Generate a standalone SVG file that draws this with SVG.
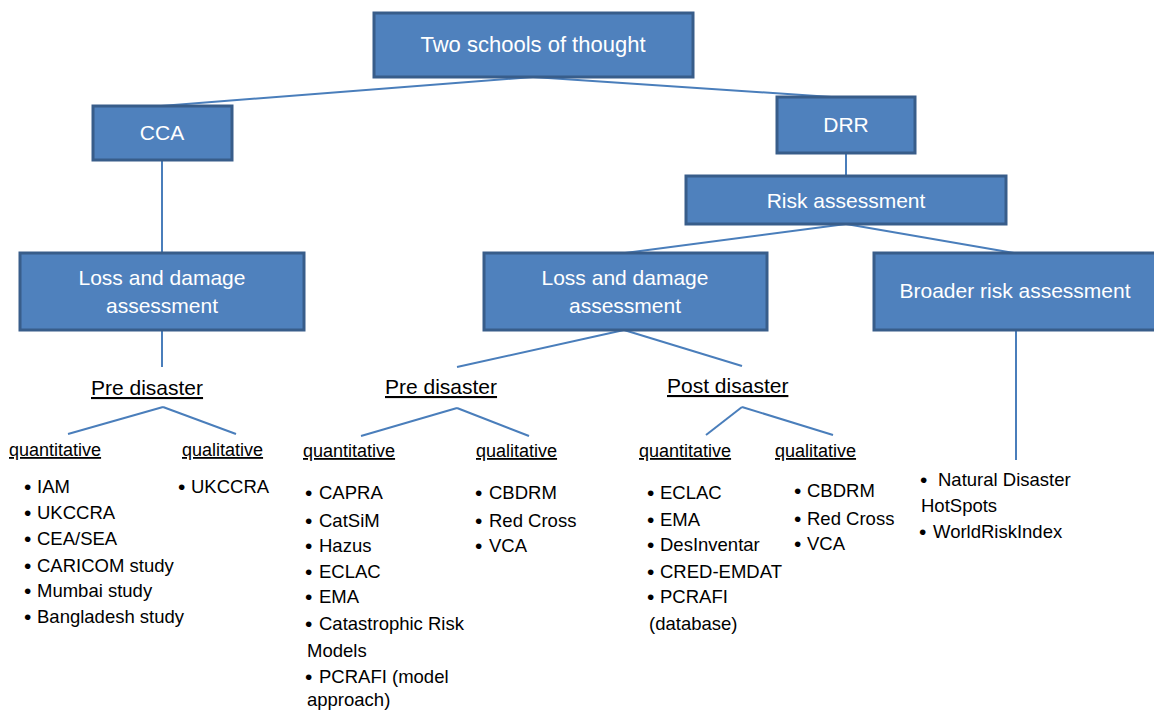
<svg xmlns="http://www.w3.org/2000/svg" width="1154" height="711" viewBox="0 0 1154 711">
<style>
.box{fill:#4f81bd;stroke:#385d8a;stroke-width:3}
.bt{font-family:"Liberation Sans",Arial,sans-serif;font-size:21px;fill:#fff;text-anchor:middle}
.conn line{stroke:#4a7ebb;stroke-width:2}
.h{font-family:"Liberation Sans",Arial,sans-serif;font-size:21px;fill:#000;text-decoration:underline}
.lab{font-family:"Liberation Sans",Arial,sans-serif;font-size:18px;fill:#000;text-decoration:underline}
.li{font-family:"Liberation Sans",Arial,sans-serif;font-size:18.5px;fill:#000}
.b{font-size:21px}
</style>
<rect width="1154" height="711" fill="#fff"/>
<g class="conn" id="connectors">
<line x1="533" y1="77" x2="161" y2="106"/>
<line x1="533" y1="77" x2="846" y2="98"/>
<line x1="162" y1="160" x2="162" y2="253"/>
<line x1="846" y1="153" x2="846" y2="176"/>
<line x1="846" y1="224" x2="625" y2="253"/>
<line x1="846" y1="224" x2="1014" y2="253"/>
<line x1="162" y1="330" x2="162" y2="367"/>
<line x1="624" y1="330" x2="457" y2="367"/>
<line x1="624" y1="330" x2="742" y2="366"/>
<line x1="163" y1="407" x2="68" y2="434"/>
<line x1="163" y1="407" x2="236" y2="434"/>
<line x1="457" y1="408" x2="361" y2="436"/>
<line x1="457" y1="408" x2="529" y2="436"/>
<line x1="742" y1="407" x2="706" y2="435"/>
<line x1="742" y1="407" x2="833" y2="435"/>
<line x1="1016" y1="330" x2="1016" y2="460"/>
</g>
<g id="n-top"><rect class="box" x="374" y="13" width="319" height="64"/><text class="bt" x="533" y="52" style="font-size:22px">Two schools of thought</text></g>
<g id="n-cca"><rect class="box" x="93" y="106" width="139" height="54"/><text class="bt" x="162" y="140">CCA</text></g>
<g id="n-drr"><rect class="box" x="777" y="97" width="138" height="56"/><text class="bt" x="846" y="132">DRR</text></g>
<g id="n-risk"><rect class="box" x="686" y="176" width="320" height="48"/><text class="bt" x="846" y="208">Risk assessment</text></g>
<g id="n-ld-left"><rect class="box" x="20" y="253" width="284" height="77"/><text class="bt" x="162" y="285">Loss and damage</text><text class="bt" x="162" y="313">assessment</text></g>
<g id="n-ld-mid"><rect class="box" x="484" y="253" width="283" height="77"/><text class="bt" x="625" y="285">Loss and damage</text><text class="bt" x="625" y="313">assessment</text></g>
<g id="n-broader"><rect class="box" x="874" y="253" width="290" height="77"/><text class="bt" x="1015" y="298">Broader risk assessment</text></g>
<g id="n-cca-pre">
<text class="h" x="91" y="395">Pre disaster</text>
<text class="lab" x="9" y="456">quantitative</text>
<text class="lab" x="182" y="456">qualitative</text>
<g class="li">
<text class="b" x="24" y="494">•</text><text x="37" y="493">IAM</text>
<text class="b" x="24" y="520">•</text><text x="37" y="519">UKCCRA</text>
<text class="b" x="24" y="546">•</text><text x="37" y="545">CEA/SEA</text>
<text class="b" x="24" y="573">•</text><text x="37" y="572">CARICOM study</text>
<text class="b" x="24" y="598">•</text><text x="37" y="597">Mumbai study</text>
<text class="b" x="24" y="624">•</text><text x="37" y="623">Bangladesh study</text>
<text class="b" x="178" y="494">•</text><text x="191" y="493">UKCCRA</text>
</g>
</g>
<g id="n-drr-pre">
<text class="h" x="385" y="394">Pre disaster</text>
<text class="lab" x="303" y="457">quantitative</text>
<text class="lab" x="476" y="457">qualitative</text>
<g class="li">
<text class="b" x="305" y="500">•</text><text x="319" y="499">CAPRA</text>
<text class="b" x="305" y="528">•</text><text x="319" y="527">CatSiM</text>
<text class="b" x="305" y="553">•</text><text x="319" y="552">Hazus</text>
<text class="b" x="305" y="579">•</text><text x="319" y="578">ECLAC</text>
<text class="b" x="305" y="604">•</text><text x="319" y="603">EMA</text>
<text class="b" x="305" y="631">•</text><text x="319" y="630">Catastrophic Risk</text>
<text x="307" y="657">Models</text>
<text class="b" x="305" y="684">•</text><text x="319" y="683">PCRAFI (model</text>
<text x="307" y="706">approach)</text>
<text class="b" x="475" y="500">•</text><text x="489" y="499">CBDRM</text>
<text class="b" x="475" y="528">•</text><text x="489" y="527">Red Cross</text>
<text class="b" x="475" y="553">•</text><text x="489" y="552">VCA</text>
</g>
</g>
<g id="n-drr-post">
<text class="h" x="667" y="393">Post disaster</text>
<text class="lab" x="639" y="457">quantitative</text>
<text class="lab" x="775" y="457">qualitative</text>
<g class="li">
<text class="b" x="647" y="500">•</text><text x="660" y="499">ECLAC</text>
<text class="b" x="647" y="527">•</text><text x="660" y="526">EMA</text>
<text class="b" x="647" y="552">•</text><text x="660" y="551">DesInventar</text>
<text class="b" x="647" y="579">•</text><text x="660" y="578">CRED-EMDAT</text>
<text class="b" x="647" y="604">•</text><text x="660" y="603">PCRAFI</text>
<text x="649" y="630">(database)</text>
<text class="b" x="794" y="498">•</text><text x="807" y="497">CBDRM</text>
<text class="b" x="794" y="526">•</text><text x="807" y="525">Red Cross</text>
<text class="b" x="794" y="551">•</text><text x="807" y="550">VCA</text>
</g>
</g>
<g id="n-broader-list" class="li">
<text class="b" x="920" y="487">•</text><text x="938" y="486">Natural Disaster</text>
<text x="921" y="512">HotSpots</text>
<text class="b" x="919" y="539">•</text><text x="933" y="538">WorldRiskIndex</text>
</g>
</svg>
